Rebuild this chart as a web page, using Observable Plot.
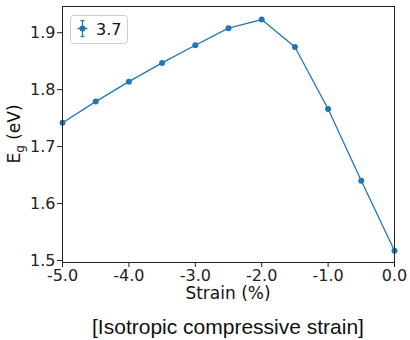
<!DOCTYPE html>
<html><head><meta charset="utf-8">
<script src="https://cdn.jsdelivr.net/npm/d3@7"></script>
<script src="https://cdn.jsdelivr.net/npm/@observablehq/plot@0.6"></script>
<style>
body{margin:0;background:#fff;}
#wrap{position:relative;width:410px;height:340px;}
#cap{position:absolute;left:62px;width:332px;top:316px;text-align:center;font-family:"Liberation Sans",Arial,sans-serif;font-size:21px;line-height:21px;color:#111;}
</style>
</head><body>
<div id="wrap"><div id="chart"></div><div id="cap">[Isotropic compressive strain]</div></div>
<script>
const strain = [-5.0, -4.5, -4.0, -3.5, -3.0, -2.5, -2.0, -1.5, -1.0, -0.5, 0.0];
const gap = [1.742, 1.779, 1.814, 1.847, 1.878, 1.908, 1.923, 1.875, 1.766, 1.640, 1.517];
const xTicks = [-5, -4, -3, -2, -1, 0];
const yTicks = [1.5, 1.6, 1.7, 1.8, 1.9];
const seriesName = "3.7";
const xLabel = "Strain (%)";

const data = strain.map((s, i) => ({s, e: gap[i]}));
const blue = "#1f77b4";
const W = 410, H = 305, mL = 62, mR = 16, mT = 6, mB = 43;

const plot = Plot.plot({
  width: W, height: H,
  marginLeft: mL, marginRight: mR, marginTop: mT, marginBottom: mB,
  style: {fontFamily: "DejaVu Sans", fontSize: "16px", color: "#222", background: "#fff"},
  x: {domain: [-5, 0]},
  y: {domain: [1.4965, 1.946]},
  marks: [
    Plot.line(data, {x: "s", y: "e", stroke: blue, strokeWidth: 1.3}),
    Plot.dot(data, {x: "s", y: "e", r: 3, fill: blue}),
    Plot.axisX({ticks: xTicks, tickFormat: d => d.toFixed(1), tickSize: 5, tickPadding: 2, label: null}),
    Plot.axisY({ticks: yTicks, tickFormat: d => d.toFixed(1), tickSize: 5, tickPadding: 2, label: null}),
    Plot.frame({stroke: "#222", strokeWidth: 1})
  ]
});
document.getElementById("chart").appendChild(plot);

const svg = d3.select(plot);
// x label
svg.append("text").attr("x", (mL + W - mR) / 2).attr("y", 299)
  .attr("text-anchor", "middle").attr("font-family", "DejaVu Sans").attr("font-size", 17).attr("fill", "#111")
  .text(xLabel);
// y label with subscript
const yl = svg.append("text").attr("transform", "translate(20,134) rotate(-90)")
  .attr("text-anchor", "middle").attr("font-family", "DejaVu Sans").attr("font-size", 17).attr("fill", "#111");
yl.append("tspan").text("E");
yl.append("tspan").attr("font-size", 12).attr("dy", 4).text("g");
yl.append("tspan").attr("dy", -4).text(" (eV)");

// legend
const lg = svg.append("g");
lg.append("rect").attr("x", 70.5).attr("y", 15.5).attr("width", 57).attr("height", 28).attr("rx", 3)
  .attr("fill", "#fff").attr("fill-opacity", 0.8).attr("stroke", "#ccc");
const mx = 82.5, my = 28.5;
lg.append("line").attr("x1", mx - 5).attr("x2", mx + 5).attr("y1", my).attr("y2", my).attr("stroke", blue).attr("stroke-width", 1.3);
lg.append("line").attr("x1", mx).attr("x2", mx).attr("y1", my - 8).attr("y2", my + 8).attr("stroke", blue).attr("stroke-width", 1.3);
lg.append("line").attr("x1", mx - 2).attr("x2", mx + 2).attr("y1", my - 8).attr("y2", my - 8).attr("stroke", blue).attr("stroke-width", 1.3);
lg.append("line").attr("x1", mx - 2).attr("x2", mx + 2).attr("y1", my + 8).attr("y2", my + 8).attr("stroke", blue).attr("stroke-width", 1.3);
lg.append("circle").attr("cx", mx).attr("cy", my).attr("r", 3).attr("fill", blue);
lg.append("text").attr("x", 96).attr("y", 34.5).attr("text-anchor", "start").attr("font-family", "DejaVu Sans").attr("font-size", 16).attr("fill", "#111").text(seriesName);
</script>
</body></html>
